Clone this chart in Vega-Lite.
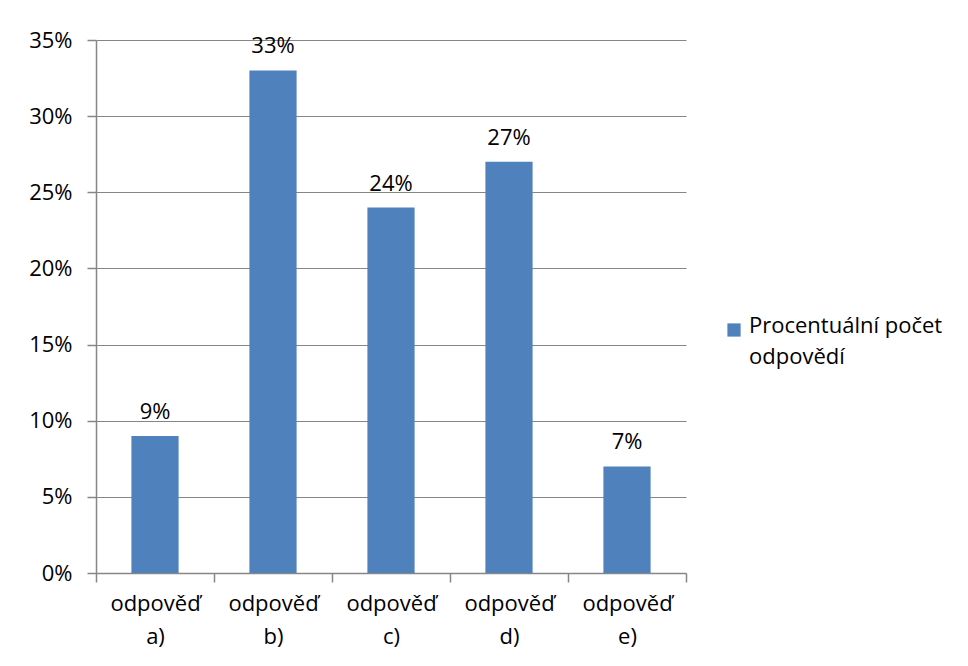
{
  "$schema": "https://vega.github.io/schema/vega-lite/v6.json",
  "width": 590,
  "height": 533,
  "autosize": {"type": "none"},
  "padding": {"left": 96, "top": 40, "right": 282, "bottom": 93},
  "background": "white",
  "data": {
    "values": [
      {"odpoved": "odpověď a)", "podil": 0.09, "serie": "Procentuální počet odpovědí"},
      {"odpoved": "odpověď b)", "podil": 0.33, "serie": "Procentuální počet odpovědí"},
      {"odpoved": "odpověď c)", "podil": 0.24, "serie": "Procentuální počet odpovědí"},
      {"odpoved": "odpověď d)", "podil": 0.27, "serie": "Procentuální počet odpovědí"},
      {"odpoved": "odpověď e)", "podil": 0.07, "serie": "Procentuální počet odpovědí"}
    ]
  },
  "encoding": {
    "x": {
      "field": "odpoved",
      "type": "nominal",
      "sort": null,
      "scale": {"paddingInner": 0, "paddingOuter": 0},
      "axis": {
        "title": null,
        "labelAngle": 0,
        "labelExpr": "split(datum.label, ' ')",
        "labelLineHeight": 33,
        "labelPadding": 11,
        "tickBand": "extent",
        "tickSize": 9,
        "domainColor": "#868686",
        "tickColor": "#868686",
        "grid": false
      }
    },
    "y": {
      "field": "podil",
      "type": "quantitative",
      "scale": {"domain": [0, 0.35], "nice": false},
      "axis": {
        "title": null,
        "values": [0, 0.05, 0.1, 0.15, 0.2, 0.25, 0.3, 0.35],
        "format": ".0%",
        "tickSize": 9,
        "labelPadding": 15,
        "grid": true,
        "gridColor": "#868686",
        "domainColor": "#868686",
        "tickColor": "#868686"
      }
    }
  },
  "layer": [
    {
      "mark": {"type": "bar", "width": {"band": 0.4}},
      "encoding": {
        "color": {
          "field": "serie",
          "type": "nominal",
          "scale": {"range": ["#4F81BD"]},
          "legend": {
            "title": null,
            "orient": "none",
            "legendX": 627,
            "legendY": 279,
            "symbolType": "square",
            "symbolSize": 175,
            "symbolStrokeWidth": 0,
            "labelExpr": "['Procentuální počet', 'odpovědí']",
            "labelBaseline": "top",
            "labelOffset": 4,
            "labelLimit": 300,
            "encode": {
              "labels": {
                "update": {
                  "lineHeight": {"value": 31},
                  "dy": {"value": -14}
                }
              }
            }
          }
        }
      }
    },
    {
      "mark": {"type": "text", "baseline": "bottom", "dy": -12},
      "encoding": {
        "text": {"field": "podil", "type": "quantitative", "format": ".0%"}
      }
    }
  ],
  "config": {
    "font": "Open Sans",
    "view": {"stroke": null},
    "axis": {
      "labelFont": "Open Sans",
      "labelFontSize": 22,
      "labelColor": "#000000",
      "domainWidth": 1.5,
      "tickWidth": 1.5,
      "gridWidth": 1.2
    },
    "legend": {
      "labelFont": "Open Sans",
      "labelFontSize": 22,
      "labelColor": "#000000"
    },
    "text": {"font": "Open Sans", "fontSize": 22, "color": "#000000"}
  }
}
